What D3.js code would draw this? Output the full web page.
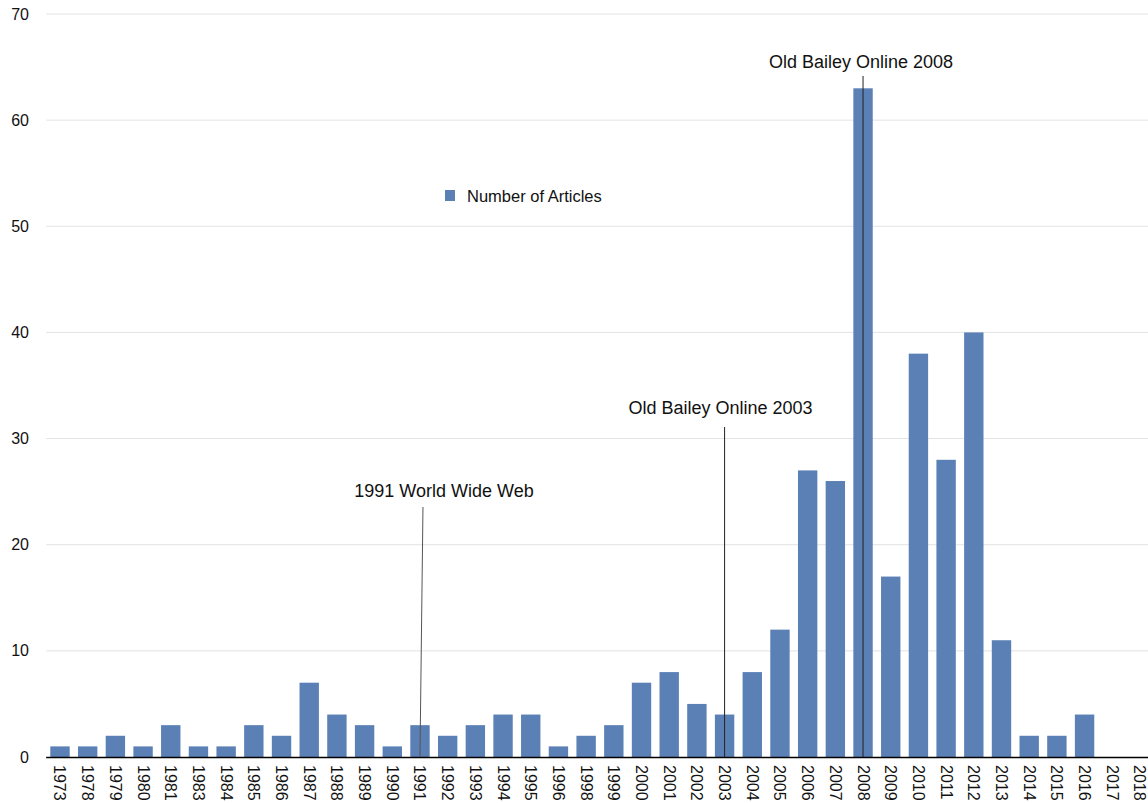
<!DOCTYPE html>
<html>
<head>
<meta charset="utf-8">
<script src="https://cdn.jsdelivr.net/npm/d3@7"></script>
<style>
  html, body { margin: 0; padding: 0; background: #fff; }
  svg { display: block; font-family: "Liberation Sans", Arial, Helvetica, sans-serif; }
</style>
</head>
<body>
<svg id="chart" width="1148" height="803"></svg>
<script>
// Articles per year
const years = ["1973","1978","1979","1980","1981","1983","1984","1985","1986","1987",
  "1988","1989","1990","1991","1992","1993","1994","1995","1996","1998",
  "1999","2000","2001","2002","2003","2004","2005","2006","2007","2008",
  "2009","2010","2011","2012","2013","2014","2015","2016","2017","2018"];
const articles = [1,1,2,1,3,1,1,3,2,7,
  4,3,1,3,2,3,4,4,1,2,
  3,7,8,5,4,8,12,27,26,63,
  17,38,28,40,11,2,2,4,0,0];
const yTicks = [0,10,20,30,40,50,60,70];
const seriesName = "Number of Articles";

// Event markers: year, caption, and the value level where each caption sits
const eventYears = ["1991","2003","2008"];
const eventLabels = ["1991 World Wide Web","Old Bailey Online 2003","Old Bailey Online 2008"];
const eventLabelValues = [24.54, 32.27, 64.87];

const svg = d3.select("#chart");
const plotLeft = 46.15, plotRight = 1153.8, plotTop = 14, plotBottom = 757;

const x = d3.scaleBand().domain(years).range([plotLeft, plotRight]).paddingInner(0.3).paddingOuter(0.15);
const y = d3.scaleLinear().domain([0, 70]).range([plotBottom, plotTop]);

// Gridlines
svg.append("g")
  .selectAll("line")
  .data(yTicks.filter(d => d > 0))
  .join("line")
  .attr("x1", plotLeft).attr("x2", 1148)
  .attr("y1", d => y(d)).attr("y2", d => y(d))
  .attr("stroke", "#e3e3e3").attr("stroke-width", 1);

// Y axis labels
const yAxis = d3.axisLeft(y).tickValues(yTicks).tickSize(0).tickPadding(0);
svg.append("g")
  .attr("transform", `translate(29,0)`)
  .call(yAxis)
  .call(g => g.select(".domain").remove())
  .call(g => g.selectAll("text")
    .attr("font-size", 16).attr("fill", "#111")
    .attr("font-family", "Liberation Sans, Arial, sans-serif"));

// Bars
svg.append("g")
  .selectAll("rect")
  .data(years.map((yr, i) => ({ yr, v: articles[i] })))
  .join("rect")
  .attr("x", d => x(d.yr))
  .attr("width", x.bandwidth())
  .attr("y", d => y(d.v))
  .attr("height", d => y(0) - y(d.v))
  .attr("fill", "#5b80b6");

// X axis, labels rotated to read downward
const xAxis = d3.axisBottom(x).tickSize(0).tickPadding(0);
svg.append("g")
  .attr("transform", `translate(0,${plotBottom})`)
  .call(xAxis)
  .call(g => g.select(".domain").remove())
  .call(g => g.selectAll("text")
    .attr("font-size", 16).attr("fill", "#111")
    .attr("font-family", "Liberation Sans, Arial, sans-serif")
    .attr("text-anchor", "start")
    .attr("dy", null)
    .attr("transform", "translate(-5.5,8) rotate(90)")
    .attr("y", 0).attr("x", 0));

svg.append("line")
  .attr("x1", plotLeft).attr("x2", 1148)
  .attr("y1", plotBottom + 0.5).attr("y2", plotBottom + 0.5)
  .attr("stroke", "#000").attr("stroke-width", 1.5);

// Event annotations
const labelShift = [24, -4, -2];
const lineGap = [10.5, 12.5, 7.5];
const ev = svg.append("g");
eventYears.forEach((yr, i) => {
  const cx = x(yr) + x.bandwidth() / 2;
  const ly = y(eventLabelValues[i]);
  ev.append("line")
    .attr("x1", i === 0 ? cx + 3 : cx).attr("y1", ly + lineGap[i])
    .attr("x2", cx).attr("y2", plotBottom)
    .attr("stroke", i === 0 ? "#555" : "#222").attr("stroke-width", 1);
  ev.append("text")
    .attr("x", cx + labelShift[i]).attr("y", ly)
    .attr("text-anchor", "middle")
    .attr("font-size", 18).attr("fill", "#111")
    .text(eventLabels[i]);
});

// Legend
const lg = svg.append("g").attr("transform", "translate(445,190)");
lg.append("rect").attr("width", 10).attr("height", 11).attr("fill", "#5b80b6");
lg.append("text").attr("x", 22).attr("y", 12).attr("font-size", 16.5).attr("fill", "#111").text(seriesName);
</script>
</body>
</html>
